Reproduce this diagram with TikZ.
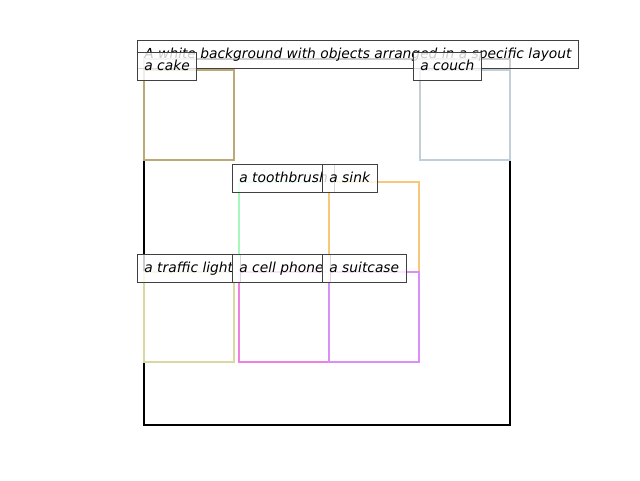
\documentclass[tikz,border=0pt]{standalone}
\usepackage{fontspec}
\setmainfont{DejaVu Sans}
\usetikzlibrary{positioning}
\definecolor{cakecol}{HTML}{BCA874}
\definecolor{couchcol}{HTML}{C2CED8}
\definecolor{brushcol}{HTML}{A4F8BC}
\definecolor{sinkcol}{HTML}{F8C878}
\definecolor{lightcol}{HTML}{D8D8A0}
\definecolor{phonecol}{HTML}{F080E0}
\definecolor{casecol}{HTML}{D890F8}

\begin{document}
\begin{tikzpicture}[x=1pt,y=-1pt]
\tikzset{font={\fontsize{13.8}{16}\selectfont\itshape}}
\tikzset{lbl/.style={draw=black!75,line width=0.8pt,fill=white,fill opacity=0.8,text opacity=1,draw opacity=1,anchor=west,text height=12pt,text depth=2.5pt,minimum height=28pt,inner xsep=7pt,inner ysep=0pt}}
\tikzset{obj/.style={line width=2.2pt}}
\useasboundingbox (0,0) rectangle (640,480);

%Frame
\draw[line width=2.2pt] (144,59) rectangle (510,425);

%Objects
\foreach \x/\y/\c in {144/70/cakecol,420/70/couchcol,239/182/brushcol,329/182/sinkcol,144/272/lightcol,239/272/phonecol,329/272/casecol}
\draw[obj,color=\c] (\x,\y) rectangle ++(90,90);

%Labels
\node[lbl] (title) at (137,54) {A white background with objects arranged in a specific layout};
\node[lbl] (cake) at (137,66) {a cake};
\node[lbl] (couch) at (413,66) {a couch};
\node[lbl] (toothbrush) at (232,178) {a toothbrush};
\node[lbl] (sink) at (322,178) {a sink};
\node[lbl] (trafficlight) at (137,268) {a traffic light};
\node[lbl] (cellphone) at (232,268) {a cell phone};
\node[lbl] (suitcase) at (322,268) {a suitcase};

\end{tikzpicture}
\end{document}
